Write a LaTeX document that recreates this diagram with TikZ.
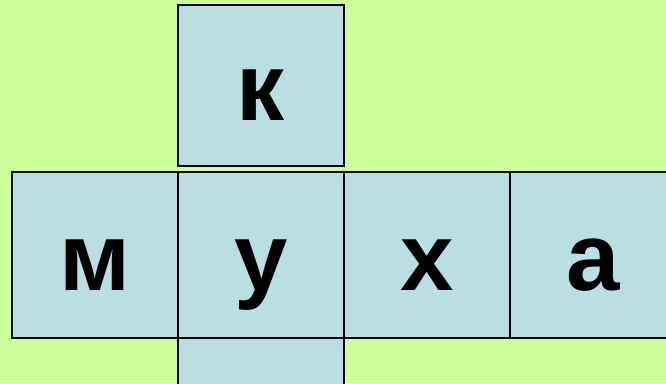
\documentclass[tikz,border=0pt]{standalone}
\usepackage{fontspec}
\setmainfont{Liberation Sans}
\usetikzlibrary{positioning}
\definecolor{meadow}{RGB}{204,255,153}
\definecolor{tile}{RGB}{185,223,227}
\begin{document}
\begin{tikzpicture}[x=1pt,y=-1pt,
  cell/.style={rectangle,draw,fill=tile,line width=1.5pt,minimum width=166pt,
               minimum height=166pt,inner sep=0pt,text height=70pt,text depth=0pt,
               font=\fontsize{96}{100}\selectfont\bfseries}]

\useasboundingbox (0,0) rectangle (666,383);
\clip (0,0) rectangle (666,383);
\fill[meadow] (0,0) rectangle (666,383);

% vertical word
\node[cell,minimum height=161pt] (k) at (261,85.5) {к};
\node[cell] (down) at (261,421) {};

% horizontal word
\node[cell] (m) at (95,255)  {м};
\node[cell] (u) at (261,255) {у};
\node[cell] (h) at (427,255) {х};
\node[cell] (a) at (593,255) {а};
\end{tikzpicture}
\end{document}
